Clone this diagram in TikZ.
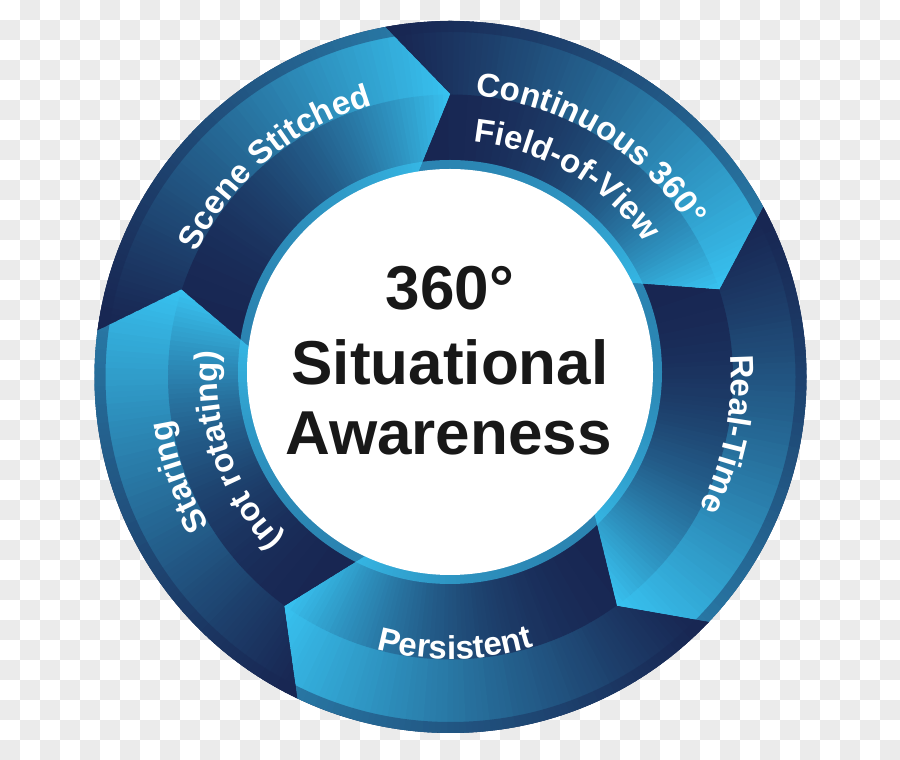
\documentclass[tikz,border=0pt]{standalone}
\usepackage{fontspec}
\newfontfamily\lib{Liberation Sans}
\usetikzlibrary{decorations.text}
\definecolor{navyA}{RGB}{24,38,82}
\definecolor{cyanA}{RGB}{56,196,242}
\definecolor{checkgray}{RGB}{235,235,235}
\definecolor{rimnavy}{RGB}{27,45,92}
\definecolor{inktext}{RGB}{24,24,24}
\newcommand\ringfont{\lib\bfseries\fontsize{33}{36}\selectfont\color{white}}
\newcommand\ringtext[4]{%
  \path[decorate, decoration={text along path, text align=center, text={|\ringfont|#4}}]
    (#1:#3) arc[start angle=#1, end angle=#2, radius=#3];
}
\tikzset{centertext/.style={font=\lib\bfseries\fontsize{62}{62}\selectfont, text=inktext, inner sep=0pt, anchor=base}}
\begin{document}
\begin{tikzpicture}[x=1pt,y=1pt]
\useasboundingbox (0,0) rectangle (900,760);
% transparency checkerboard
\fill[white] (0,0) rectangle (900,760);
\foreach \j in {0,...,37}{
  \foreach \i in {0,...,44}{
    \ifodd\numexpr\i+\j\relax
      \fill[checkgray] (20*\i,740-20*\j) rectangle ++(20,20);
    \fi
  }
}
\begin{scope}[shift={(450.5,383)}]
  \fill[rimnavy] (0,0) circle[radius=356];
  % five chevron segments with gradient
  \foreach \a in {172.5,100.5,28.5,-43.5,-115.5}{
    \begin{scope}
      \clip (\a:356) arc[start angle=\a, end angle=\a-72, radius=356]
        -- (\a-82.5:283) -- (\a-72:198)
        arc[start angle=\a-72, end angle=\a, radius=198]
        -- (\a-10.5:283) -- cycle;
      \foreach \i in {0,...,88}{
        \pgfmathsetmacro\tA{\a+1-\i}
        \pgfmathsetmacro\tB{\tA-1.4}
        \pgfmathsetmacro\tval{min(max((\a-\tA+0.5)/82.5,0.001),1)}
        \pgfmathtruncatemacro\pout{100*\tval^1.15}
        \pgfmathtruncatemacro\pin{100*\tval^2.2}
        \fill[cyanA!\pout!navyA] (\tA:282) arc[start angle=\tA, end angle=\tB, radius=282]
          -- (\tB:358) arc[start angle=\tB, end angle=\tA, radius=358] -- cycle;
        \fill[cyanA!\pin!navyA] (\tA:197) arc[start angle=\tA, end angle=\tB, radius=197]
          -- (\tB:282.5) arc[start angle=\tB, end angle=\tA, radius=282.5] -- cycle;
      }
    \end{scope}
  }
  % outer rim
  \fill[navyA, fill opacity=0.4, even odd rule] (0,0) circle[radius=356] (0,0) circle[radius=345];
  % ring labels
  \ringtext{170}{90}{283}{Scene Stitched}
  \ringtext{98.5}{18.5}{282}{Continuous 360°}
  \ringtext{99.5}{19.5}{236}{Field-of-View}
  \ringtext{28.4}{-51.6}{281}{Real-Time}
  \ringtext{-129}{-49}{282}{Persistent}
  \ringtext{240.2}{160.2}{283}{Staring}
  \ringtext{239}{159}{233}{(not rotating)}
\end{scope}
% inner white disc with cyan lip
\fill[cyanA, fill opacity=0.6] (450,388) circle[radius=212];
\fill[white] (450,388) circle[radius=203];
\node[centertext] (lineA) at (450,450) {360°};
\node[centertext] (lineB) at (450,375) {Situational};
\node[centertext] (lineC) at (448.5,305) {Awareness};
\end{tikzpicture}
\end{document}
